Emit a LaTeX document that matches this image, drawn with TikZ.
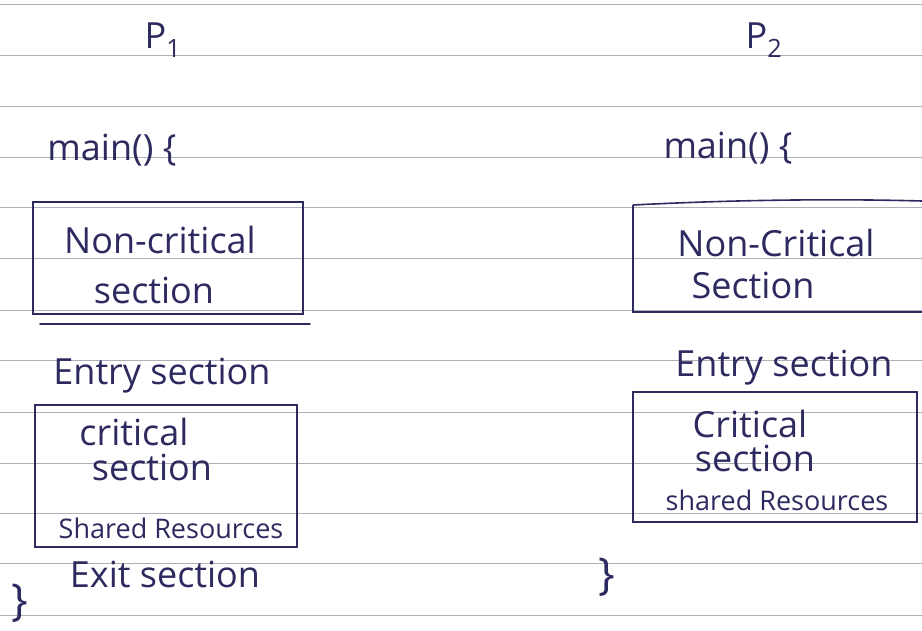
\documentclass[tikz,border=0pt]{standalone}
\usepackage{fontspec}
\setmainfont{Open Sans}
\definecolor{ink}{RGB}{45,42,95}
\definecolor{rule}{RGB}{175,175,182}
\begin{document}
\begin{tikzpicture}[x=1pt,y=-1pt,
  hand/.style={text=ink,font=\fontsize{36}{40}\selectfont,inner sep=0pt},
  small/.style={text=ink,font=\fontsize{27}{30}\selectfont,inner sep=0pt},
  brace/.style={text=ink,font=\fontsize{44}{44}\selectfont,inner sep=0pt},
  inkbox/.style={draw=ink,line width=1.6pt},
  inkline/.style={draw=ink,line width=1.6pt,line cap=round}]
\useasboundingbox (0,0) rectangle (922,630);
\fill[white] (0,0) rectangle (922,630);
% ruled lines
\foreach \y in {4,55,106,157,207,258,310,360,412,463,513,563,615}
  \draw[rule,line width=1pt] (0,\y) -- (922,\y);
% headings
\node[hand] (p1) at (163,40) {P\textsubscript{1}};
\node[hand] (p2) at (764,40) {P\textsubscript{2}};
\node[hand] (m1) at (112,150) {main() \{};
\node[hand] (m2) at (728,148) {main() \{};
% left column
\draw[inkbox] (33,202) rectangle (303,314);
\coordinate (u1a) at (40,324);
\coordinate (u1b) at (310,324);
\draw[inkline] (u1a) -- (u1b);
\node[hand] (nc1) at (160,240) {Non-critical};
\node[hand] (s1) at (154,290) {section};
\node[hand] (e1) at (162,376) {Entry section};
\draw[inkbox] (35,405) rectangle (297,547);
\node[hand] (c1) at (134,432) {critical};
\node[hand] (cs1) at (152,467) {section};
\node[small] (r1) at (171,528) {Shared Resources};
\node[hand] (x1) at (165,574) {Exit section};
\node[brace] (b1) at (20,603) {\}};
% right column
\draw[inkbox] (633,205) .. controls (750,199) and (850,199) .. (922,201);
\draw[inkbox] (633,205) -- (633,312) -- (922,312);
\node[hand] (nc2) at (776,243) {Non-Critical};
\node[hand] (s2) at (753,285) {Section};
\node[hand] (e2) at (784,368) {Entry section};
\draw[inkbox] (633,392) rectangle (917,522);
\node[hand] (c2) at (750,424) {Critical};
\node[hand] (cs2) at (755,458) {section};
\node[small] (r2) at (777,500) {shared Resources};
\node[brace] (b2) at (607,577) {\}};
\end{tikzpicture}
\end{document}
